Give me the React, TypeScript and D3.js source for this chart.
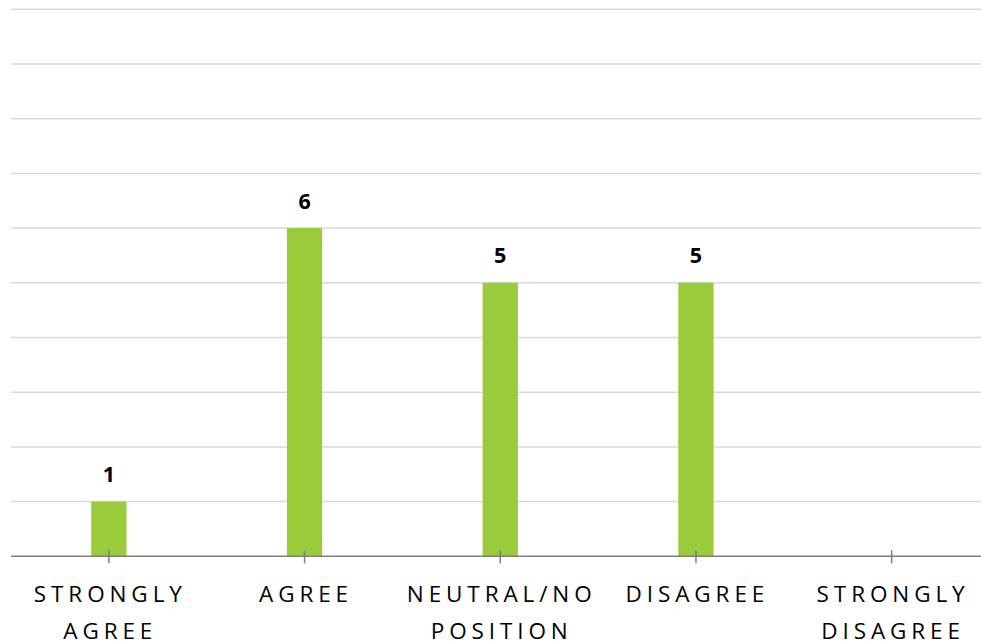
import React from "react";
import * as d3 from "d3";

const categories: string[][] = [
  ["STRONGLY", "AGREE"],
  ["AGREE"],
  ["NEUTRAL/NO", "POSITION"],
  ["DISAGREE"],
  ["STRONGLY", "DISAGREE"],
];
const values: number[] = [1, 6, 5, 5, 0];
const yTicks: number[] = [0, 1, 2, 3, 4, 5, 6, 7, 8, 9, 10];

const W = 981;
const H = 643;

export default function App() {
  const keys = categories.map((c) => c.join(" "));
  const x = d3.scaleBand<string>().domain(keys).range([11, 989.5]).paddingInner(0).paddingOuter(0);
  const y = d3.scaleLinear().domain([0, 10]).range([556.3, 9.3]);
  const barW = 35.3;
  const green = "#9ACB3B";
  const ls = 4.9;

  return (
    <svg width={W} height={H} style={{ position: "absolute", left: 0, top: 0, background: "#fff" }}>
      {yTicks.slice(1).map((t) => (
        <line key={t} x1={11} x2={W} y1={y(t)} y2={y(t)} stroke="#d9d9d9" strokeWidth={1.5} />
      ))}
      {values.map((v, i) => {
        const cx = x(keys[i])! + x.bandwidth() / 2;
        return v > 0 ? (
          <g key={i}>
            <rect x={cx - barW / 2} y={y(v)} width={barW} height={y(0) - y(v)} fill={green} />
            <text x={cx} y={y(v) - 19.5} textAnchor="middle" fontFamily="Open Sans" fontWeight={700} fontSize={21.5} fill="#000">
              {v}
            </text>
          </g>
        ) : null;
      })}
      <line x1={11} x2={W} y1={y(0)} y2={y(0)} stroke="#7f7f7f" strokeWidth={1.5} />
      {keys.map((k, i) => {
        const cx = x(k)! + x.bandwidth() / 2;
        return (
          <g key={k}>
            <line x1={cx} x2={cx} y1={y(0) - 6} y2={y(0) + 7} stroke="#7f7f7f" strokeWidth={1.5} />
            {categories[i].map((ln, j) => (
              <text key={j} x={cx + ls / 2 - 1} y={602.3 + j * 36.2} textAnchor="middle" fontFamily="Open Sans" fontSize={22.5} letterSpacing={ls} fill="#000">
                {ln}
              </text>
            ))}
          </g>
        );
      })}
    </svg>
  );
}
